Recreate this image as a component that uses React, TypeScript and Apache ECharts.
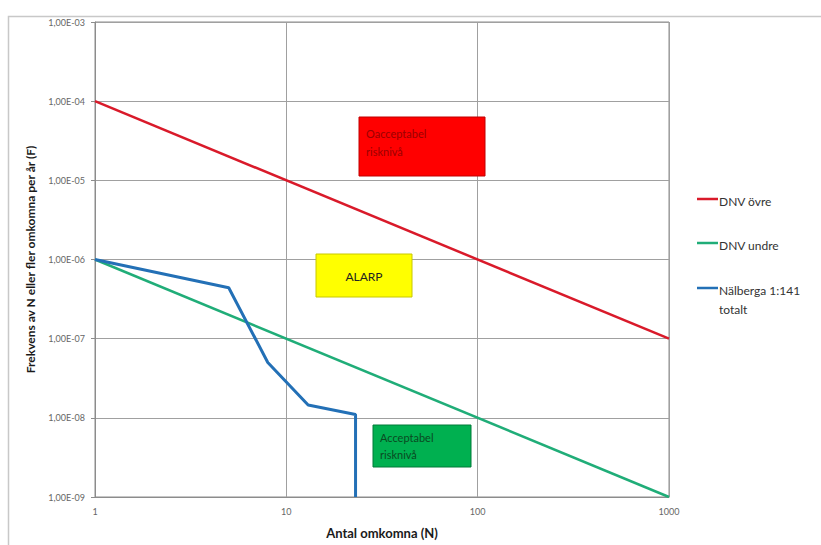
import React, { useEffect, useRef } from "react";
import * as echarts from "echarts";

const xTicks = [1, 10, 100, 1000];
const yTickExponents = [-3, -4, -5, -6, -7, -8, -9];

const dnvUpperN = [1, 1000];
const dnvUpperF = [1e-4, 1e-7];
const dnvLowerN = [1, 1000];
const dnvLowerF = [1e-6, 1e-9];
const nalbergaN = [1, 5, 8, 13, 23, 23];
const nalbergaF = [1e-6, 4.4e-7, 5e-8, 1.45e-8, 1.1e-8, 1e-9];

const seriesNames = ["DNV övre", "DNV undre", "Nälberga 1:141\ntotalt"];
const seriesColors = ["#d91a2a", "#20ad78", "#2370b6"];

const zoneLabels = ["Oacceptabel\nrisknivå", "ALARP", "Acceptabel\nrisknivå"];

const FONT = "Lato, 'Liberation Sans', sans-serif";

function pairs(xs: number[], ys: number[]) {
  return xs.map((x, i) => [x, ys[i]]);
}

function fmtY(v: number) {
  const e = Math.round(Math.log10(v));
  const s = Math.abs(e) < 10 ? "0" + Math.abs(e) : String(Math.abs(e));
  return "1,00E" + (e < 0 ? "-" : "+") + s;
}

export default function App() {
  const ref = useRef<HTMLDivElement>(null);
  useEffect(() => {
    if (!ref.current) return;
    const chart = echarts.init(ref.current, undefined, { renderer: "svg" });
    const gridLeft = 95, gridTop = 22, gridRight = 669, gridBottom = 497;
    const legendX = 697;
    const legendYs = [199, 243, 288];
    chart.setOption({
      animation: false,
      backgroundColor: "#ffffff",
      grid: { left: gridLeft, top: gridTop, right: 821 - gridRight, bottom: 545 - gridBottom, show: true, borderColor: "#8c8c8c", borderWidth: 1 },
      xAxis: {
        type: "log",
        logBase: 10,
        min: 1,
        max: 1000,
        name: "Antal omkomna (N)",
        nameLocation: "middle",
        nameGap: 29,
        nameTextStyle: { fontFamily: FONT, fontWeight: "bold", fontSize: 13, color: "#1a1a1a" },
        axisLine: { lineStyle: { color: "#8c8c8c" } },
        axisTick: { show: false },
        axisLabel: { fontFamily: FONT, fontSize: 9, color: "#666", margin: 10, formatter: (v: number) => (xTicks.includes(Math.round(v)) ? String(Math.round(v)) : "") },
        splitLine: { show: true, lineStyle: { color: "#a0a0a0", width: 1 } },
        minorTick: { show: false },
      },
      yAxis: {
        type: "log",
        logBase: 10,
        min: Math.pow(10, yTickExponents[yTickExponents.length - 1]),
        max: Math.pow(10, yTickExponents[0]),
        splitNumber: 6,
        name: "Frekvens av N eller fler omkomna per år (F)",
        nameLocation: "middle",
        nameGap: 59,
        nameTextStyle: { fontFamily: FONT, fontWeight: "bold", fontSize: 12, color: "#1a1a1a" },
        axisLine: { show: true, lineStyle: { color: "#8c8c8c" } },
        axisTick: { show: true, length: 4, lineStyle: { color: "#8c8c8c" } },
        axisLabel: { fontFamily: FONT, fontSize: 9, color: "#666", margin: 10, formatter: fmtY },
        splitLine: { show: true, lineStyle: { color: "#a0a0a0", width: 1 } },
      },
      series: [
        { name: seriesNames[0], type: "line", data: pairs(dnvUpperN, dnvUpperF), symbol: "none", lineStyle: { color: seriesColors[0], width: 2.5 }, itemStyle: { color: seriesColors[0] }, z: 3 },
        { name: seriesNames[1], type: "line", data: pairs(dnvLowerN, dnvLowerF), symbol: "none", lineStyle: { color: seriesColors[1], width: 2.5 }, itemStyle: { color: seriesColors[1] }, z: 3 },
        { name: seriesNames[2], type: "line", data: pairs(nalbergaN, nalbergaF), symbol: "none", lineStyle: { color: seriesColors[2], width: 3 }, itemStyle: { color: seriesColors[2] }, z: 4 },
      ],
      graphic: [
        { type: "rect", shape: { x: 8.5, y: 16.5, width: 830, height: 540 }, style: { fill: "none", stroke: "#c8c8c8", lineWidth: 1.5 }, silent: true, z: -1 },
        { type: "rect", shape: { x: 359, y: 117, width: 126, height: 59 }, style: { fill: "#ff0000", stroke: "#c00000", lineWidth: 1 }, z: 10 },
        { type: "text", x: 366, y: 124, style: { text: zoneLabels[0], fill: "#9a0000", font: `11px ${FONT}`, lineHeight: 18 }, z: 11 },
        { type: "rect", shape: { x: 316, y: 254, width: 96, height: 43 }, style: { fill: "#ffff00", stroke: "#c8c800", lineWidth: 1 }, z: 10 },
        { type: "text", x: 364, y: 276, style: { text: zoneLabels[1], fill: "#222", font: `12px ${FONT}`, align: "center", verticalAlign: "middle" }, z: 11 },
        { type: "rect", shape: { x: 373, y: 425, width: 98, height: 42 }, style: { fill: "#00b050", stroke: "#007a38", lineWidth: 1 }, z: 10 },
        { type: "text", x: 380, y: 429, style: { text: zoneLabels[2], fill: "#0a4a22", font: `11px ${FONT}`, lineHeight: 17 }, z: 11 },
        ...legendYs.flatMap((y, i) => [
          { type: "line", shape: { x1: legendX, y1: y, x2: legendX + 21, y2: y }, style: { stroke: seriesColors[i], lineWidth: 2.5 } },
          { type: "text", x: legendX + 22, y: y - 7, style: { text: seriesNames[i], fill: "#333", font: `12px ${FONT}`, lineHeight: 19 } },
        ]),
      ],
    });
    return () => chart.dispose();
  }, []);
  return <div ref={ref} style={{ width: 821, height: 545, position: "absolute", left: 0, top: 0 }} />;
}
